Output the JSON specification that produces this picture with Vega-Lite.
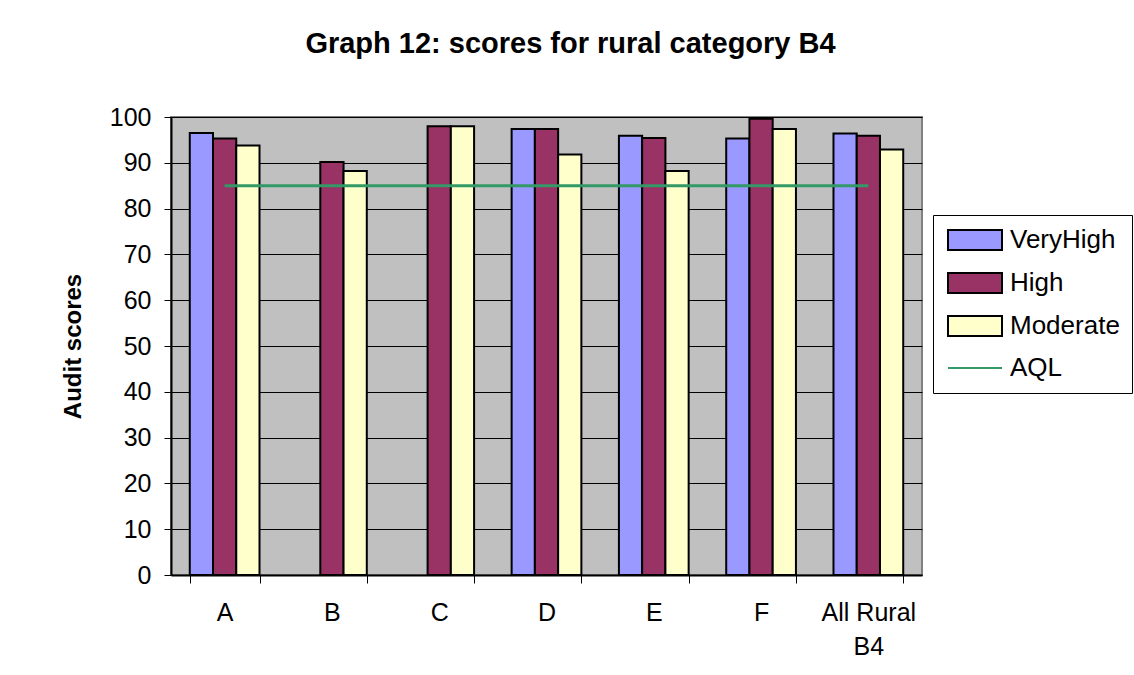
{
  "$schema": "https://vega.github.io/schema/vega-lite/v6.json",
  "autosize": {"type": "none"},
  "width": 751,
  "height": 458,
  "padding": {"left": 171, "top": 117, "right": 212, "bottom": 100},
  "background": "white",
  "config": {
    "font": "Liberation Sans",
    "view": {"fill": "#C0C0C0", "stroke": "#808080", "strokeWidth": 2},
    "legend": {
      "orient": "none",
      "legendX": 762,
      "legendY": 98,
      "fillColor": "white",
      "strokeColor": "black",
      "padding": 12,
      "rowPadding": 15,
      "labelFontSize": 26,
      "labelColor": "black",
      "labelOffset": 39,
      "labelLimit": 300,
      "symbolSize": 400,
      "symbolStrokeWidth": 2,
      "symbolOpacity": 1
    }
  },
  "title": {
    "text": "Graph 12: scores for rural category B4",
    "fontSize": 29,
    "fontWeight": "bold",
    "color": "black",
    "anchor": "middle",
    "dx": 24,
    "offset": 46
  },
  "datasets": {
    "bars": [
      {"category": "A", "series": "VeryHigh", "value": 96.5},
      {"category": "A", "series": "High", "value": 95.3},
      {"category": "A", "series": "Moderate", "value": 93.8},
      {"category": "B", "series": "High", "value": 90.2},
      {"category": "B", "series": "Moderate", "value": 88.2},
      {"category": "C", "series": "High", "value": 98.0},
      {"category": "C", "series": "Moderate", "value": 98.0},
      {"category": "D", "series": "VeryHigh", "value": 97.4},
      {"category": "D", "series": "High", "value": 97.4},
      {"category": "D", "series": "Moderate", "value": 91.8},
      {"category": "E", "series": "VeryHigh", "value": 95.9},
      {"category": "E", "series": "High", "value": 95.4},
      {"category": "E", "series": "Moderate", "value": 88.2},
      {"category": "F", "series": "VeryHigh", "value": 95.3},
      {"category": "F", "series": "High", "value": 99.6},
      {"category": "F", "series": "Moderate", "value": 97.4},
      {"category": "All Rural B4", "series": "VeryHigh", "value": 96.4},
      {"category": "All Rural B4", "series": "High", "value": 95.9},
      {"category": "All Rural B4", "series": "Moderate", "value": 92.9}
    ],
    "aql": [
      {"category": "A", "value": 85},
      {"category": "B", "value": 85},
      {"category": "C", "value": 85},
      {"category": "D", "value": 85},
      {"category": "E", "value": 85},
      {"category": "F", "value": 85},
      {"category": "All Rural B4", "value": 85}
    ]
  },
  "encoding": {
    "x": {
      "field": "category",
      "type": "nominal",
      "sort": ["A", "B", "C", "D", "E", "F", "All Rural B4"],
      "scale": {"domain": ["A", "B", "C", "D", "E", "F", "All Rural B4"], "paddingInner": 0.35, "paddingOuter": 0.175},
      "axis": {
        "title": null,
        "labelAngle": 0,
        "labelFontSize": 25,
        "labelColor": "black",
        "labelPadding": 17,
        "labelLineHeight": 34,
        "labelBaseline": "top",
        "labelExpr": "datum.value == 'All Rural B4' ? ['All Rural', 'B4'] : datum.value",
        "labelLimit": 300,
        "tickBand": "extent",
        "tickSize": 8,
        "tickColor": "black",
        "domainColor": "black",
        "domainWidth": 2,
        "grid": false
      }
    },
    "y": {
      "field": "value",
      "type": "quantitative",
      "scale": {"domain": [0, 100], "nice": false},
      "axis": {
        "title": "Audit scores",
        "titleFontSize": 24,
        "titleFontWeight": "bold",
        "titleColor": "black",
        "titlePadding": 24,
        "values": [0, 10, 20, 30, 40, 50, 60, 70, 80, 90, 100],
        "labelFontSize": 25,
        "labelColor": "black",
        "labelPadding": 13,
        "tickSize": 7,
        "tickColor": "black",
        "domainColor": "black",
        "domainWidth": 2,
        "grid": true,
        "gridColor": "black",
        "gridWidth": 1
      }
    }
  },
  "layer": [
    {
      "data": {"name": "bars"},
      "mark": {"type": "bar", "strokeWidth": 2},
      "encoding": {
        "xOffset": {
          "field": "series",
          "type": "nominal",
          "scale": {"domain": ["VeryHigh", "High", "Moderate"], "paddingInner": 0, "paddingOuter": 0}
        },
        "fill": {
          "field": "series",
          "type": "nominal",
          "scale": {
            "domain": ["VeryHigh", "High", "Moderate", "AQL"],
            "range": ["#9999FF", "#993366", "#FFFFCC", "transparent"]
          },
          "legend": {"title": null}
        },
        "stroke": {
          "field": "series",
          "type": "nominal",
          "scale": {
            "domain": ["VeryHigh", "High", "Moderate", "AQL"],
            "range": ["black", "black", "black", "#339966"]
          },
          "legend": {"title": null}
        }
      }
    },
    {
      "data": {"name": "aql"},
      "mark": {"type": "line", "strokeWidth": 3},
      "encoding": {
        "stroke": {"datum": "AQL", "legend": {"title": null}}
      }
    },
    {
      "data": {"name": "aql"},
      "mark": {"type": "point", "size": 0, "strokeWidth": 0},
      "encoding": {
        "shape": {
          "datum": "AQL",
          "scale": {
            "domain": ["VeryHigh", "High", "Moderate", "AQL"],
            "range": ["M-1,-1H4.4V1H-1Z", "M-1,-1H4.4V1H-1Z", "M-1,-1H4.4V1H-1Z", "M-1,0H4.4"]
          },
          "legend": {"title": null}
        }
      }
    }
  ]
}
